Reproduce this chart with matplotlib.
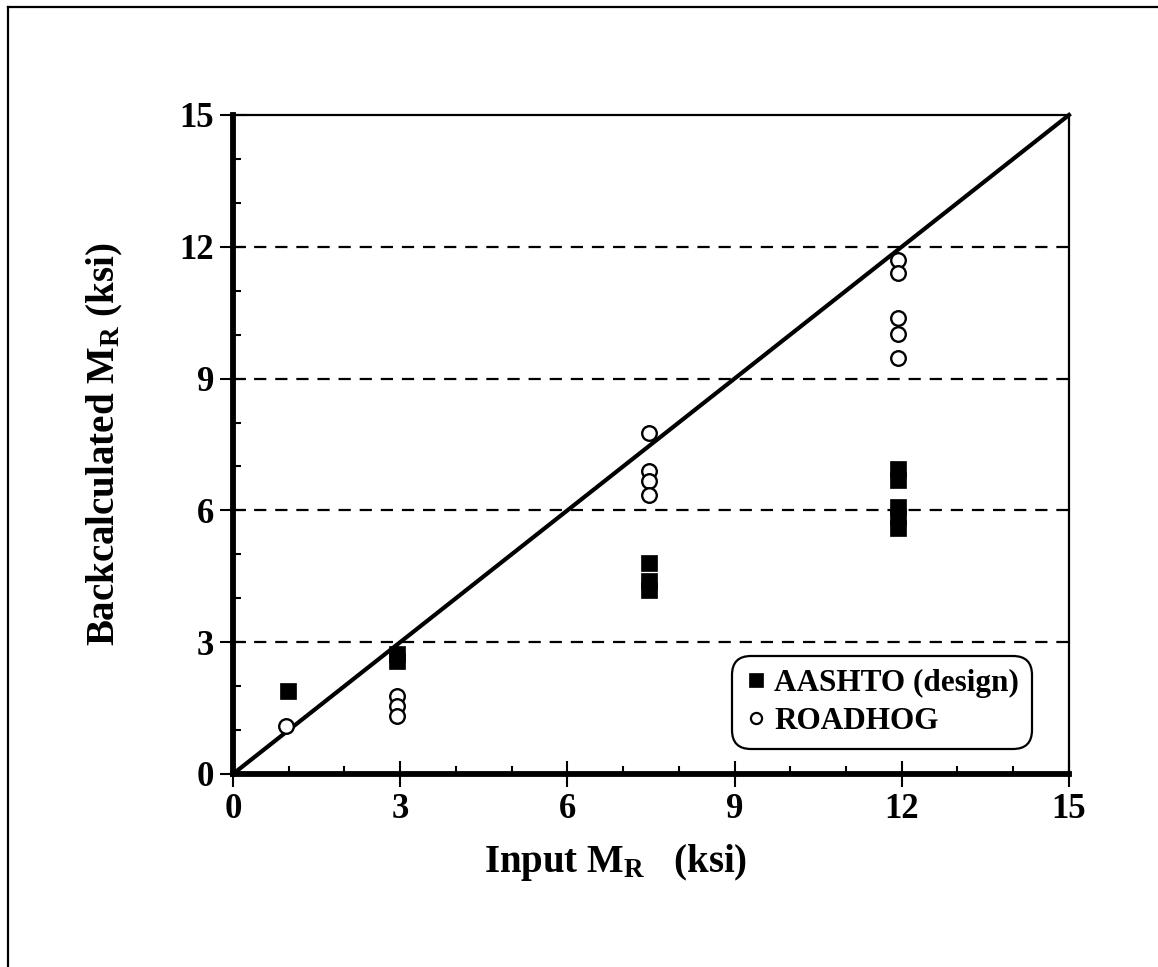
import matplotlib
matplotlib.use("Agg")
import matplotlib.pyplot as plt
from matplotlib.lines import Line2D
from matplotlib.ticker import MultipleLocator

plt.rcParams["font.family"] = ["Liberation Serif", "DejaVu Serif"]
plt.rcParams["font.weight"] = "bold"
plt.rcParams["mathtext.fontset"] = "custom"
plt.rcParams["mathtext.rm"] = "Liberation Serif:bold"
plt.rcParams["mathtext.bf"] = "Liberation Serif:bold"
plt.rcParams["mathtext.it"] = "Liberation Serif:bold"

# AASHTO (design) backcalculated moduli
aashto_x = [0.99, 2.94, 2.94, 7.46, 7.46, 7.46, 11.93, 11.93, 11.93, 11.93, 11.93]
aashto_y = [1.89, 2.73, 2.58, 4.80, 4.40, 4.19, 6.94, 6.70, 6.08, 5.85, 5.60]

# ROADHOG backcalculated moduli
roadhog_x = [0.95, 2.94, 2.94, 2.94, 7.46, 7.46, 7.46, 7.46,
             11.93, 11.93, 11.93, 11.93, 11.93]
roadhog_y = [1.10, 1.77, 1.54, 1.33, 7.75, 6.89, 6.66, 6.36,
             11.69, 11.40, 10.38, 10.02, 9.47]

# line of equality
equality = [0, 15]
grid_levels = [3, 6, 9, 12]
ticks = [0, 3, 6, 9, 12, 15]

fig = plt.figure(figsize=(11.58, 9.67), dpi=100)
ax = fig.add_axes([0.2012, 0.1996, 0.7219, 0.6815])

for g in grid_levels:
    ax.axhline(g, color="black", lw=1.6, dashes=(5.5, 4.0), zorder=1)

ax.plot(equality, equality, color="black", lw=3.0, zorder=2, clip_on=False)

ax.plot(aashto_x, aashto_y, ls="none", marker="s", ms=11.5, mfc="black",
        mec="black", mew=0.5, zorder=3)
ax.plot(roadhog_x, roadhog_y, ls="none", marker="o", ms=10.5, mfc="white",
        mec="black", mew=1.7, zorder=4)

ax.set_xlim(0, 15)
ax.set_ylim(0, 15)
ax.set_xticks(ticks)
ax.set_yticks(ticks)
ax.xaxis.set_minor_locator(MultipleLocator(1))
ax.yaxis.set_minor_locator(MultipleLocator(1))

ax.tick_params(which="major", direction="inout", length=19, width=1.5,
               labelsize=25, pad=4, top=False, right=False)
ax.tick_params(which="minor", direction="in", length=6, width=1.5,
               top=False, right=False)
for lab in ax.get_xticklabels() + ax.get_yticklabels():
    lab.set_fontweight("bold")

ax.spines["left"].set_linewidth(4.2)
ax.spines["bottom"].set_linewidth(4.2)
ax.spines["top"].set_linewidth(1.6)
ax.spines["right"].set_linewidth(1.6)

ax.set_xlabel(r"Input M$_{\mathrm{R}}$   (ksi)", fontsize=28,
              fontweight="bold")
ax.xaxis.set_label_coords(0.458, -0.103)
ax.set_ylabel(r"Backcalculated M$_{\mathrm{R}}$ (ksi)", fontsize=28,
              fontweight="bold", labelpad=39)

handles = [
    Line2D([], [], ls="none", marker="s", ms=10.5, mfc="black", mec="black",
           mew=0.5),
    Line2D([], [], ls="none", marker="o", ms=8, mfc="white", mec="black",
           mew=1.6),
]
labels = ["AASHTO (design)", "ROADHOG"]
leg = ax.legend(handles, labels, loc="lower right",
                bbox_to_anchor=(0.948, 0.048),
                prop={"family": "Liberation Serif", "weight": "bold",
                      "size": 22.5},
                handlelength=0.7, handletextpad=0.25, borderpad=0.2,
                labelspacing=0.3, borderaxespad=0, fancybox=True,
                framealpha=1, edgecolor="black")
leg.get_frame().set_linewidth(1.6)
leg.get_frame().set_boxstyle("round", pad=0.2, rounding_size=0.6)

# outer frame along the left and top edges of the figure
fig.add_artist(Line2D([0.0065, 0.0065], [0.0, 0.9925], color="black",
                      lw=1.6, transform=fig.transFigure))
fig.add_artist(Line2D([0.0065, 1.0], [0.9925, 0.9925], color="black",
                      lw=1.6, transform=fig.transFigure))

fig.savefig("out.png", dpi=100, facecolor="white")
